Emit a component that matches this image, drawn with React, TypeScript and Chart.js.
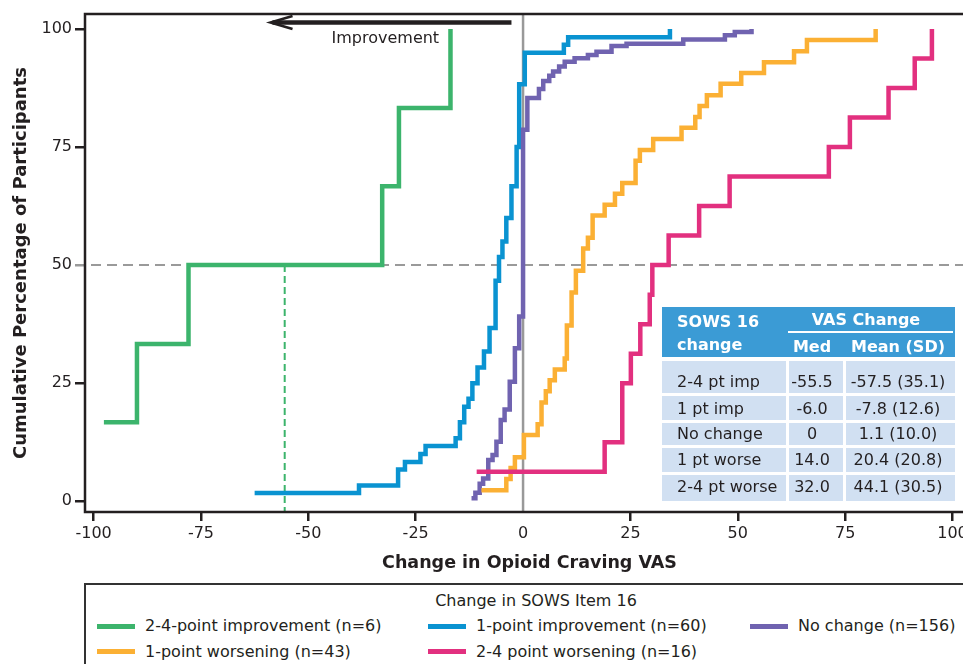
import React, { useEffect, useRef } from "react";
import { Chart, registerables } from "chart.js";

Chart.register(...registerables);

const FONT = '"DejaVu Sans", "Liberation Sans", sans-serif';
const INK = "#231f20";

// ---- data ----
const greenX = [-97.6, -89.9, -77.9, -32.8, -28.9, -16.9];
const greenY = [16.7, 33.3, 50.0, 66.7, 83.3, 100];

const blueX = [-62.5, -38.2, -29.1, -27.5, -23.9, -22.7, -15.7, -14.7, -13.7, -12.7, -11.8, -10.6, -9.1, -7.8, -6.4, -5.6, -4.8, -3.9, -2.7, -1.5, -0.9, 0.4, 9.5, 10.5, 34.2];
const blueY = [1.7, 3.3, 6.7, 8.3, 10.0, 11.7, 13.3, 16.7, 20.0, 21.7, 25.0, 28.3, 31.7, 36.7, 46.7, 51.7, 55.0, 60.0, 66.7, 75.0, 88.3, 95.0, 96.7, 98.3, 100];

const purpleX = [-12.0, -11.1, -10.1, -9.3, -8.1, -7.1, -6.2, -5.2, -4.3, -3.1, -1.9, -0.9, 0.0, 1.0, 3.7, 4.7, 6.1, 7.0, 8.4, 9.7, 12.0, 15.1, 17.1, 20.6, 24.1, 37.3, 47.0, 49.3, 53.2];
const purpleY = [0.6, 1.8, 3.7, 4.8, 8.7, 9.8, 12.6, 17.2, 19.4, 25.3, 32.4, 39.1, 78.7, 85.4, 87.3, 89.0, 90.1, 91.0, 92.1, 93.1, 93.8, 94.5, 95.2, 96.4, 96.9, 97.8, 98.7, 99.4, 100];

const orangeX = [-9.7, -3.9, -2.9, -1.9, 0.2, 3.4, 4.3, 5.3, 6.2, 7.4, 9.7, 10.2, 11.3, 12.3, 14.0, 15.1, 16.2, 19.0, 21.4, 23.1, 26.2, 27.2, 30.3, 36.9, 40.1, 41.1, 42.8, 46.0, 50.8, 56.1, 63.1, 66.1, 82.1];
const orangeY = [2.3, 4.7, 7.0, 9.3, 14.0, 16.3, 20.9, 23.3, 25.6, 27.9, 30.2, 37.2, 44.2, 48.8, 53.5, 55.8, 60.5, 62.8, 65.1, 67.4, 72.1, 74.4, 76.7, 79.1, 81.4, 83.7, 86.0, 88.4, 90.7, 93.0, 95.3, 97.7, 100];

const pinkX = [-10.8, 19.0, 23.1, 25.1, 27.3, 29.5, 30.1, 33.9, 41.0, 48.1, 71.2, 76.1, 85.1, 91.2, 95.2];
const pinkY = [6.25, 12.5, 25, 31.25, 37.5, 43.75, 50, 56.25, 62.5, 68.75, 75, 81.25, 87.5, 93.75, 100];

const xTicks = [-100, -75, -50, -25, 0, 25, 50, 75, 100];
const yTicks = [0, 25, 50, 75, 100];

const legendTitle = "Change in SOWS Item 16";
const legendLabels = [
  "2-4-point improvement (n=6)",
  "1-point improvement (n=60)",
  "No change (n=156)",
  "1-point worsening (n=43)",
  "2-4 point worsening (n=16)",
];

const tableRowLabels = ["2-4 pt imp", "1 pt imp", "No change", "1 pt worse", "2-4 pt worse"];
const tableMedians = ["-55.5", "-6.0", "0", "14.0", "32.0"];
const tableMeans = ["-57.5 (35.1)", "-7.8 (12.6)", "1.1 (10.0)", "20.4 (20.8)", "44.1 (30.5)"];

const greenMedian = -55.5;
const arrowFromX = -2.7;
const arrowToX = -58.8;
const arrowYVal = 101.4;
const improvementLabelX = -44.6;
const improvementLabelY = 97.0;

const GREEN = "#3cb46c";
const BLUE = "#0a93d1";
const PURPLE = "#7063b0";
const ORANGE = "#fbb034";
const PINK = "#e2307f";
const legendColors = [GREEN, BLUE, PURPLE, ORANGE, PINK];

function pts(xs: number[], ys: number[]) {
  return xs.map((x, i) => ({ x, y: ys[i] }));
}

export default function App() {
  const ref = useRef<HTMLCanvasElement>(null);

  useEffect(() => {
    const canvas = ref.current;
    if (!canvas) return;

    const refLines = {
      id: "refLines",
      beforeDatasetsDraw(chart: any) {
        const { ctx, chartArea: a, scales } = chart;
        const x = scales.x;
        const y = scales.y;
        ctx.save();
        const y50 = y.getPixelForValue(50);
        ctx.strokeStyle = "#9a9a9a";
        ctx.lineWidth = 2;
        ctx.setLineDash([10, 6]);
        ctx.beginPath();
        ctx.moveTo(a.left - 10, y50);
        ctx.lineTo(a.right, y50);
        ctx.stroke();

        const xm = x.getPixelForValue(greenMedian);
        ctx.strokeStyle = GREEN;
        ctx.lineWidth = 2;
        ctx.setLineDash([7, 4]);
        ctx.beginPath();
        ctx.moveTo(xm, y50);
        ctx.lineTo(xm, a.bottom);
        ctx.stroke();

        ctx.setLineDash([]);
        const x0 = x.getPixelForValue(0);
        ctx.strokeStyle = "#999999";
        ctx.lineWidth = 2.5;
        ctx.beginPath();
        ctx.moveTo(x0, a.top);
        ctx.lineTo(x0, a.bottom);
        ctx.stroke();
        ctx.restore();
      },
      afterDraw(chart: any) {
        const { ctx, chartArea: a, scales } = chart;
        const x = scales.x;
        const y = scales.y;
        ctx.save();
        // frame
        ctx.strokeStyle = INK;
        ctx.lineWidth = 2.5;
        ctx.strokeRect(a.left, a.top, a.right - a.left, a.bottom - a.top);
        // arrow
        const ay = y.getPixelForValue(arrowYVal);
        const x1 = x.getPixelForValue(arrowFromX);
        const x2 = x.getPixelForValue(arrowToX);
        ctx.lineWidth = 4.6;
        ctx.lineCap = "butt";
        ctx.beginPath();
        ctx.moveTo(x1, ay);
        ctx.lineTo(x2 + 2, ay);
        ctx.stroke();
        ctx.lineWidth = 2.6;
        ctx.lineJoin = "miter";
        ctx.beginPath();
        ctx.moveTo(x2 + 22, ay - 6.5);
        ctx.lineTo(x2, ay);
        ctx.lineTo(x2 + 22, ay + 6.5);
        ctx.stroke();
        // label
        ctx.fillStyle = INK;
        ctx.font = `16px ${FONT}`;
        ctx.textAlign = "left";
        ctx.textBaseline = "alphabetic";
        ctx.fillText("Improvement", x.getPixelForValue(improvementLabelX), y.getPixelForValue(improvementLabelY));
        ctx.restore();
      },
    };

    const common = {
      borderWidth: 4.5,
      stepped: "before" as const,
      pointRadius: 0,
      pointHoverRadius: 0,
      fill: false,
      tension: 0,
      borderCapStyle: "butt" as const,
      borderJoinStyle: "miter" as const,
    };

    const chart = new Chart(canvas, {
      type: "line",
      data: {
        datasets: [
          { ...common, label: legendLabels[4], data: pts(pinkX, pinkY), borderColor: PINK },
          { ...common, label: legendLabels[3], data: pts(orangeX, orangeY), borderColor: ORANGE },
          { ...common, label: legendLabels[2], data: pts(purpleX, purpleY), borderColor: PURPLE },
          { ...common, label: legendLabels[1], data: pts(blueX, blueY), borderColor: BLUE },
          { ...common, label: legendLabels[0], data: pts(greenX, greenY), borderColor: GREEN },
        ],
      },
      options: {
        responsive: false,
        animation: false,
        devicePixelRatio: 1,
        layout: { padding: { top: 14, right: 26, bottom: 0, left: 0 } },
        plugins: { legend: { display: false }, tooltip: { enabled: false } },
        events: [],
        scales: {
          x: {
            type: "linear",
            min: -102,
            max: 105,
            afterBuildTicks: (s: any) => {
              s.ticks = xTicks.map((v) => ({ value: v }));
            },
            afterFit: (s: any) => {
              s.height = 68;
            },
            grid: {
              display: true,
              drawOnChartArea: false,
              drawTicks: true,
              tickLength: 9,
              lineWidth: 2.5,
              color: (c: any) => (c.tick && c.tick.value === 0 ? "rgba(0,0,0,0)" : INK),
            },
            border: { display: false },
            ticks: {
              autoSkip: false,
              maxRotation: 0,
              padding: 3,
              color: INK,
              font: { family: FONT, size: 16 },
              callback: (v: any) => String(v),
            },
            title: {
              display: true,
              text: "Change in Opioid Craving VAS",
              color: INK,
              font: { family: FONT, size: 17.5, weight: "bold" },
              padding: { top: 0, bottom: 6.5 },
            },
          },
          y: {
            type: "linear",
            min: -2.3,
            max: 103.2,
            afterBuildTicks: (s: any) => {
              s.ticks = yTicks.map((v) => ({ value: v }));
            },
            afterFit: (s: any) => {
              s.width = 85;
            },
            grid: {
              display: true,
              drawOnChartArea: false,
              drawTicks: true,
              tickLength: 10,
              lineWidth: 2.5,
              color: (c: any) => (c.tick && c.tick.value === 50 ? "#9a9a9a" : INK),
            },
            border: { display: false },
            ticks: {
              autoSkip: false,
              padding: 3,
              color: INK,
              font: { family: FONT, size: 16 },
              callback: (v: any) => String(v),
            },
            title: {
              display: true,
              text: "Cumulative Percentage of Participants",
              color: INK,
              font: { family: FONT, size: 18, weight: "bold" },
              padding: { top: 11, bottom: 0 },
            },
          },
        },
      },
      plugins: [refLines],
    } as any);

    return () => chart.destroy();
  }, []);

  const colL = [662, 789, 846];
  const colR = [786, 843, 955];
  const rowT = [361, 396, 423, 448, 475];
  const rowB = [393, 420, 445, 472, 501];
  const rowC = [381.5, 408.5, 434, 460, 487];
  const HEAD = "#3b9bd5";
  const BODY = "#d1e0f2";

  const textDiv = (key: string, txt: string, cx: number, cy: number, align: "left" | "center", extra: any = {}) => {
    const w = 240;
    const left = align === "left" ? cx : cx - w / 2;
    return (
      <div
        key={key}
        style={{
          position: "absolute",
          left,
          top: cy - 11,
          width: w,
          height: 22,
          lineHeight: "22px",
          textAlign: align,
          whiteSpace: "nowrap",
          fontSize: 16,
          ...extra,
        }}
      >
        {txt}
      </div>
    );
  };

  const legendColX = [97, 428, 750];
  const legendRowY = [626, 651.5];

  return (
    <div
      style={{
        position: "absolute",
        left: 0,
        top: 0,
        width: 963,
        height: 664,
        overflow: "hidden",
        background: "#ffffff",
        fontFamily: FONT,
        color: INK,
      }}
    >
      <canvas
        ref={ref}
        width={1000}
        height={580}
        style={{ position: "absolute", left: 0, top: 0, width: 1000, height: 580 }}
      />

      {/* summary table */}
      <div style={{ position: "absolute", left: 662, top: 307, width: 293, height: 50, background: HEAD }} />
      {textDiv("h1", "SOWS 16", 677, 322, "left", { color: "#fff", fontWeight: "bold" })}
      {textDiv("h2", "change", 677, 344.5, "left", { color: "#fff", fontWeight: "bold" })}
      {textDiv("h3", "VAS Change", 866, 320, "center", { color: "#fff", fontWeight: "bold" })}
      <div style={{ position: "absolute", left: 788, top: 331, width: 165, height: 2, background: "#fff" }} />
      {textDiv("h4", "Med", 812, 346.5, "center", { color: "#fff", fontWeight: "bold" })}
      {textDiv("h5", "Mean (SD)", 898, 346.5, "center", { color: "#fff", fontWeight: "bold" })}
      {tableRowLabels.map((lab, r) => (
        <React.Fragment key={"r" + r}>
          {colL.map((l, c) => (
            <div
              key={"c" + r + c}
              style={{ position: "absolute", left: l, top: rowT[r], width: colR[c] - l, height: rowB[r] - rowT[r], background: BODY }}
            />
          ))}
          {textDiv("t1" + r, lab, 677, rowC[r], "left")}
          {textDiv("t2" + r, tableMedians[r], 812, rowC[r], "center")}
          {textDiv("t3" + r, tableMeans[r], 898, rowC[r], "center")}
        </React.Fragment>
      ))}

      {/* legend */}
      <div
        style={{
          position: "absolute",
          left: 84,
          top: 583,
          width: 963,
          height: 120,
          border: "2.5px solid #333",
          boxSizing: "border-box",
        }}
      />
      {textDiv("lt", legendTitle, 536, 600.5, "center")}
      {legendLabels.map((lab, i) => {
        const col = i % 3;
        const row = Math.floor(i / 3);
        const sx = legendColX[col];
        const cy = legendRowY[row];
        return (
          <React.Fragment key={"lg" + i}>
            <div style={{ position: "absolute", left: sx, top: cy - 2.5, width: 38, height: 5, background: legendColors[i] }} />
            {textDiv("lgt" + i, lab, sx + 48, cy, "left")}
          </React.Fragment>
        );
      })}
    </div>
  );
}
